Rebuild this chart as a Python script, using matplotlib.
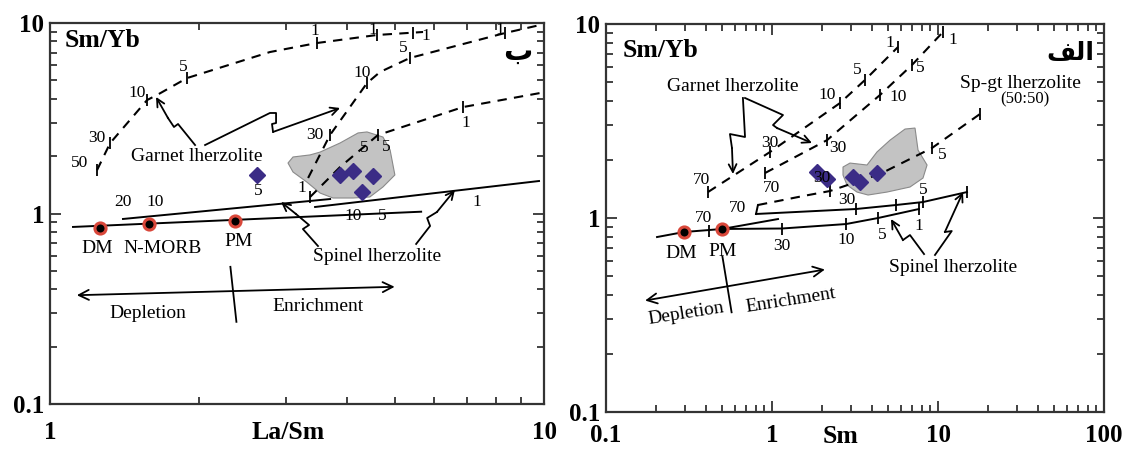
import numpy as np
import matplotlib.pyplot as plt
from matplotlib.ticker import LogLocator, NullFormatter

plt.rcParams['font.family'] = ['Liberation Serif', 'DejaVu Sans']

# ---------------- panel "ب" : Sm/Yb vs La/Sm ----------------
ls_mantle_x = [1.262, 1.586, 2.368]
ls_mantle_y = [0.844, 0.881, 0.913]
ls_mantle_names = ['DM', 'N-MORB', 'PM']
ls_mantle_lab_x = [1.245, 1.69, 2.41]
ls_mantle_lab_y = [0.659, 0.659, 0.716]

ls_samples_x = [2.62, 3.87, 4.10, 4.51, 4.28]
ls_samples_y = [1.59, 1.59, 1.68, 1.57, 1.30]

ls_field_x = [3.032, 3.104, 3.36, 3.52, 3.865, 4.203, 4.382, 4.72, 4.88, 4.99,
              4.72, 4.44, 4.106, 3.74, 3.52, 3.31, 3.104]
ls_field_y = [1.841, 1.98, 2.03, 2.10, 2.345, 2.647, 2.68, 2.52, 2.155, 1.593,
              1.378, 1.221, 1.206, 1.206, 1.281, 1.463, 1.651]

# spinel lherzolite melting lines (solid)
ls_dm_x, ls_dm_y = [1.113, 5.64], [0.850, 1.022]
ls_sp1_x, ls_sp1_y = [1.405, 3.69], [0.936, 1.191]
ls_sp2_x, ls_sp2_y = [3.44, 9.77], [1.082, 1.481]

# garnet lherzolite melting curves (dashed)
ls_grtA_x = [1.245, 1.323, 1.572, 1.647, 1.894, 2.787, 3.469, 4.59, 5.69]
ls_grtA_y = [1.69, 2.34, 3.94, 4.19, 5.14, 7.04, 7.85, 8.65, 8.97]
ls_grtB_x = [3.33, 3.687, 4.383, 4.656, 5.35, 8.34, 9.82]
ls_grtB_y = [1.536, 2.58, 4.84, 5.53, 6.55, 8.86, 9.76]
ls_grtC_x = [3.36, 3.865, 4.61, 6.855, 9.82]
ls_grtC_y = [1.22, 1.754, 2.58, 3.62, 4.29]

ls_ticks_x = [1.245, 1.323, 1.572, 1.894, 3.469, 4.59, 5.43,
              3.687, 4.383, 5.35, 8.34, 3.36, 4.61, 6.855]
ls_ticks_y = [1.69, 2.34, 3.94, 5.14, 7.85, 8.65, 8.90,
              2.58, 4.84, 6.55, 8.86, 1.22, 2.58, 3.62]

# melting-degree labels (%)
ls_num_text = ['50', '30', '10', '5', '1', '1', '1',
               '30', '10', '5', '1',
               '1', '5', '5', '1',
               '5', '20', '10', '10', '5', '1']
ls_num_x = [1.15, 1.245, 1.50, 1.86, 3.44, 4.51, 5.77,
            3.44, 4.276, 5.19, 8.15,
            3.236, 4.32, 4.79, 6.95,
            2.637, 1.406, 1.632, 4.11, 4.70, 7.32]
ls_num_y = [1.84, 2.49, 4.29, 5.87, 9.08, 9.19, 8.55,
            2.58, 5.44, 7.37, 9.19,
            1.36, 2.21, 2.23, 2.985,
            1.31, 1.149, 1.149, 0.97, 0.97, 1.149]

# pointer lines
ls_grt_arrow1_x = [1.966, 1.816, 1.782, 1.733, 1.639]
ls_grt_arrow1_y = [2.288, 2.95, 2.845, 3.17, 4.09]
ls_grt_arrow2_x = [2.06, 2.787, 2.868, 2.868, 2.814, 2.828, 3.865]
ls_grt_arrow2_y = [2.288, 3.37, 3.37, 2.985, 2.95, 2.68, 3.58]
ls_sp_arrow1_x = [3.487, 3.25, 3.345, 3.147, 2.935]
ls_sp_arrow1_y = [0.675, 0.829, 0.87, 0.994, 1.149]
ls_sp_arrow2_x = [5.51, 5.88, 5.80, 6.07, 6.60]
ls_sp_arrow2_y = [0.692, 0.86, 0.947, 1.018, 1.328]

ls_trend_x, ls_trend_y = [1.133, 4.985], [0.3725, 0.4123]
ls_divider_x, ls_divider_y = [2.318, 2.384], [0.525, 0.270]

# ---------------- panel "الف" : Sm/Yb vs Sm ----------------
sm_mantle_x = [0.295, 0.500]
sm_mantle_y = [0.847, 0.878]
sm_mantle_names = ['DM', 'PM']
sm_mantle_lab_x = [0.282, 0.503]
sm_mantle_lab_y = [0.657, 0.67]

sm_samples_x = [1.866, 2.144, 3.076, 3.39, 4.29]
sm_samples_y = [1.726, 1.589, 1.627, 1.533, 1.706]

sm_field_x = [2.678, 2.951, 3.736, 4.29, 5.14, 6.33, 7.27, 7.58, 8.59, 8.12,
              6.78, 4.93, 3.79, 3.25, 2.83, 2.678]
sm_field_y = [1.832, 1.92, 1.876, 2.19, 2.52, 2.875, 2.91, 2.24, 1.876, 1.607,
              1.445, 1.361, 1.314, 1.361, 1.48, 1.666]

sm_sp1_x = [0.203, 0.295, 0.500, 1.149, 2.79, 4.35, 7.68]
sm_sp1_y = [0.798, 0.847, 0.878, 0.883, 0.931, 1.0, 1.113]
sm_sp2_x, sm_sp2_y = [0.500, 1.087], [0.878, 0.988]
sm_sp3_x = [0.801, 3.207, 5.58, 8.12, 14.95]
sm_sp3_y = [1.049, 1.113, 1.167, 1.209, 1.361]

sm_grt1_x = [0.4115, 0.973, 2.568, 3.63, 5.74]
sm_grt1_y = [1.361, 2.19, 3.915, 5.145, 7.61]
sm_grt2_x = [0.908, 2.144, 4.47, 6.97, 10.72]
sm_grt2_y = [1.706, 2.52, 4.305, 6.15, 9.10]
sm_spgt_x = [0.823, 1.537, 2.235, 4.47, 9.20, 17.9]
sm_spgt_y = [1.167, 1.298, 1.378, 1.686, 2.296, 3.437]

sm_ticks_x = [0.4115, 0.973, 2.568, 3.63, 5.74,
              0.908, 2.144, 4.47, 6.97, 10.72,
              2.235, 9.20, 17.9,
              0.4174, 1.149, 2.79, 4.35, 7.68,
              3.207, 5.58, 8.12, 14.95]
sm_ticks_y = [1.361, 2.19, 3.915, 5.145, 7.61,
              1.706, 2.52, 4.305, 6.15, 9.10,
              1.378, 2.296, 3.437,
              0.857, 0.883, 0.931, 1.0, 1.113,
              1.113, 1.167, 1.209, 1.361]

sm_num_text = ['70', '30', '10', '5', '1',
               '70', '30', '10', '5', '1',
               '70', '30', '30', '5', '5',
               '30', '10', '5', '1', '70']
sm_num_x = [0.378, 0.973, 2.144, 3.25, 5.14,
            1.0, 2.498, 5.74, 7.79, 12.31,
            0.6235, 2.0, 2.83, 10.57, 8.12,
            1.149, 2.79, 4.60, 7.68, 0.386]
sm_num_y = [1.57, 2.436, 4.305, 5.79, 7.98,
            1.428, 2.296, 4.205, 5.93, 8.27,
            1.126, 1.607, 1.238, 2.112, 1.394,
            0.717, 0.77, 0.817, 0.909, 1.0]

sm_grt_arrow1_x = [0.668, 0.688, 0.558, 0.574, 0.582]
sm_grt_arrow1_y = [4.156, 2.616, 2.71, 2.296, 1.686]
sm_grt_arrow2_x = [0.688, 1.165, 1.014, 1.072, 1.741]
sm_grt_arrow2_y = [4.156, 3.396, 3.015, 2.91, 2.436]
sm_sp_arrow1_x = [8.24, 6.78, 6.15, 5.21]
sm_sp_arrow1_y = [0.652, 0.817, 0.77, 0.988]
sm_sp_arrow2_x = [9.59, 12.1, 11.0, 14.15]
sm_sp_arrow2_y = [0.645, 0.857, 0.847, 1.361]

sm_trend_x, sm_trend_y = [0.172, 2.083], [0.3756, 0.5427]
sm_divider_x, sm_divider_y = [0.503, 0.571], [0.632, 0.3266]

DIAMOND = '#3b2c86'
RING = '#d9473a'
FIELD = '#c3c3c3'
NUM_FS = 12.5
LAB_FS = 14
BOLD_FS = 18.5


def style_axes(ax, xlim, xticks, xticklabels, xpad):
    ax.set_xscale('log')
    ax.set_yscale('log')
    ax.set_xlim(*xlim)
    ax.set_ylim(0.1, 10)
    ax.set_xticks(xticks, xticklabels)
    ax.set_yticks([0.1, 1, 10], ['0.1', '1', '10'])
    for axis in (ax.xaxis, ax.yaxis):
        axis.set_minor_locator(LogLocator(base=10, subs=np.arange(2, 10)))
        axis.set_minor_formatter(NullFormatter())
    ax.tick_params(which='both', direction='in', top=True, right=True,
                   width=1.3, color='#333333')
    ax.tick_params(which='major', length=8)
    ax.tick_params(which='minor', length=5)
    ax.tick_params(axis='x', which='major', pad=xpad)
    ax.tick_params(axis='y', which='major', pad=4)
    for lab in ax.get_xticklabels() + ax.get_yticklabels():
        lab.set_fontweight('bold')
        lab.set_fontsize(18)
    for sp in ax.spines.values():
        sp.set_linewidth(1.6)
        sp.set_color('#333333')


def pointer(ax, xs, ys):
    ax.plot(xs[:-1], ys[:-1], color='k', lw=1.3, zorder=3)
    ax.annotate('', xy=(xs[-1], ys[-1]), xytext=(xs[-2], ys[-2]),
                arrowprops=dict(arrowstyle='->', color='k', lw=1.3,
                                shrinkA=0, shrinkB=0, mutation_scale=14),
                zorder=3)


def trend(ax, tx, ty, dx, dy):
    ax.annotate('', xy=(tx[1], ty[1]), xytext=(tx[0], ty[0]),
                arrowprops=dict(arrowstyle='<->', color='k', lw=1.3,
                                shrinkA=0, shrinkB=0, mutation_scale=18))
    ax.plot(dx, dy, color='k', lw=1.3)


dash = (0, (4.5, 3.5))

fig = plt.figure(figsize=(11.27, 4.5), dpi=100)
ax1 = fig.add_axes([0.0444, 0.1022, 0.4383, 0.8467])
ax2 = fig.add_axes([0.5377, 0.0844, 0.4419, 0.8622])

# ---- left panel ----
ax = ax1
style_axes(ax, (1, 10), [1, 10], ['1', '10'], 12)
ax.fill(ls_field_x, ls_field_y, facecolor=FIELD, edgecolor='#8a8a8a', lw=0.8, zorder=1)
for xs, ys in [(ls_dm_x, ls_dm_y), (ls_sp1_x, ls_sp1_y), (ls_sp2_x, ls_sp2_y)]:
    ax.plot(xs, ys, color='k', lw=1.4, zorder=2)
for xs, ys in [(ls_grtA_x, ls_grtA_y), (ls_grtB_x, ls_grtB_y), (ls_grtC_x, ls_grtC_y)]:
    ax.plot(xs, ys, color='k', lw=1.5, ls=dash, zorder=2)
ax.plot(ls_ticks_x, ls_ticks_y, ls='none', marker='|', ms=8, mew=1.3, color='k', zorder=2)
for t, x, y in zip(ls_num_text, ls_num_x, ls_num_y):
    ax.text(x, y, t, fontsize=NUM_FS, ha='center', va='center', zorder=4)
for xs, ys in [(ls_grt_arrow1_x, ls_grt_arrow1_y), (ls_grt_arrow2_x, ls_grt_arrow2_y),
               (ls_sp_arrow1_x, ls_sp_arrow1_y), (ls_sp_arrow2_x, ls_sp_arrow2_y)]:
    pointer(ax, xs, ys)
trend(ax, ls_trend_x, ls_trend_y, ls_divider_x, ls_divider_y)
ax.plot(ls_mantle_x, ls_mantle_y, ls='none', marker='o', ms=8, mfc='black',
        mec=RING, mew=2.2, zorder=5)
for t, x, y in zip(ls_mantle_names, ls_mantle_lab_x, ls_mantle_lab_y):
    ax.text(x, y, t, fontsize=LAB_FS, ha='center', va='center')
ax.plot(ls_samples_x, ls_samples_y, ls='none', marker='D', ms=8.5, color=DIAMOND, zorder=6)
ax.text(1.985, 1.98, 'Garnet lherzolite', fontsize=LAB_FS, ha='center', va='center')
ax.text(4.59, 0.598, 'Spinel lherzolite', fontsize=LAB_FS, ha='center', va='center')
ax.text(1.578, 0.2985, 'Depletion', fontsize=LAB_FS, ha='center', va='center')
ax.text(3.487, 0.3236, 'Enrichment', fontsize=LAB_FS, ha='center', va='center')
ax.text(0.03, 0.953, 'Sm/Yb', transform=ax.transAxes, fontsize=BOLD_FS,
        fontweight='bold', ha='left', va='center')
ax.text(0.947, 0.925, 'ب', transform=ax.transAxes, fontsize=21,
        fontweight='bold', ha='center', va='center', family=['DejaVu Sans'])
ax.text(3.03, -0.076, 'La/Sm', transform=ax.get_xaxis_transform(), fontsize=BOLD_FS,
        fontweight='bold', ha='center', va='center')

# ---- right panel ----
ax = ax2
style_axes(ax, (0.1, 100), [0.1, 1, 10, 100], ['0.1', '1', '10', '100'], 8.5)
ax.fill(sm_field_x, sm_field_y, facecolor=FIELD, edgecolor='#8a8a8a', lw=0.8, zorder=1)
for xs, ys in [(sm_sp1_x, sm_sp1_y), (sm_sp2_x, sm_sp2_y), (sm_sp3_x, sm_sp3_y)]:
    ax.plot(xs, ys, color='k', lw=1.4, zorder=2)
for xs, ys in [(sm_grt1_x, sm_grt1_y), (sm_grt2_x, sm_grt2_y), (sm_spgt_x, sm_spgt_y)]:
    ax.plot(xs, ys, color='k', lw=1.5, ls=dash, zorder=2)
ax.plot([sm_spgt_x[0], sm_sp3_x[0]], [sm_spgt_y[0], sm_sp3_y[0]], color='k', lw=1.4)
ax.plot(sm_ticks_x, sm_ticks_y, ls='none', marker='|', ms=8, mew=1.3, color='k', zorder=2)
for xs, ys in [(sm_grt_arrow1_x, sm_grt_arrow1_y), (sm_grt_arrow2_x, sm_grt_arrow2_y),
               (sm_sp_arrow1_x, sm_sp_arrow1_y), (sm_sp_arrow2_x, sm_sp_arrow2_y)]:
    pointer(ax, xs, ys)
trend(ax, sm_trend_x, sm_trend_y, sm_divider_x, sm_divider_y)
ax.plot(sm_mantle_x, sm_mantle_y, ls='none', marker='o', ms=8, mfc='black',
        mec=RING, mew=2.2, zorder=5)
for t, x, y in zip(sm_mantle_names, sm_mantle_lab_x, sm_mantle_lab_y):
    ax.text(x, y, t, fontsize=LAB_FS, ha='center', va='center')
ax.plot(sm_samples_x, sm_samples_y, ls='none', marker='D', ms=8.5, color=DIAMOND, zorder=6)
for t, x, y in zip(sm_num_text, sm_num_x, sm_num_y):
    ax.text(x, y, t, fontsize=NUM_FS, ha='center', va='center', zorder=7)
ax.text(0.582, 4.79, 'Garnet lherzolite', fontsize=LAB_FS, ha='center', va='center')
ax.text(31.2, 4.96, 'Sp-gt lherzolite', fontsize=LAB_FS, ha='center', va='center')
ax.text(33.4, 4.10, '(50:50)', fontsize=12, ha='center', va='center')
ax.text(12.31, 0.559, 'Spinel lherzolite', fontsize=LAB_FS, ha='center', va='center')
ax.text(0.303, 0.32, 'Depletion', fontsize=LAB_FS, ha='center', va='center', rotation=9)
ax.text(1.302, 0.3756, 'Enrichment', fontsize=LAB_FS, ha='center', va='center', rotation=9)
ax.text(0.034, 0.933, 'Sm/Yb', transform=ax.transAxes, fontsize=BOLD_FS,
        fontweight='bold', ha='left', va='center')
# visual-order presentation forms of "الف"
ax.text(0.932, 0.925, '\ufed2\ufedf\ufe8d', transform=ax.transAxes, fontsize=18,
        fontweight='bold', ha='center', va='center', family=['DejaVu Sans'])
ax.text(2.57, -0.062, 'Sm', transform=ax.get_xaxis_transform(), fontsize=BOLD_FS,
        fontweight='bold', ha='center', va='center')

fig.savefig('out.png', dpi=100)
